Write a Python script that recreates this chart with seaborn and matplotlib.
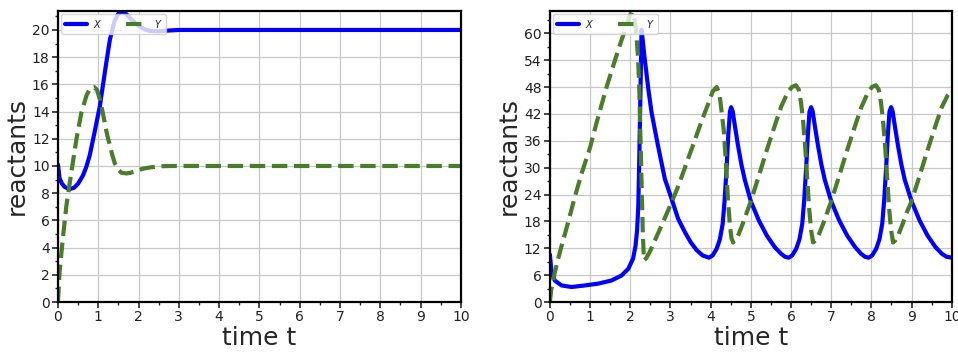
import numpy as np
import pandas as pd
import seaborn as sns
import matplotlib
matplotlib.use("Agg")
import matplotlib.pyplot as plt
from matplotlib.ticker import MultipleLocator

# left panel: damped approach to fixed point
lx_t = [0, 0.04, 0.1, 0.17, 0.29, 0.4, 0.5, 0.62, 0.7, 0.79, 0.91, 1.04, 1.12, 1.2, 1.29,
        1.41, 1.5, 1.58, 1.67, 1.78, 1.9, 2.03, 2.15, 2.28, 2.5, 2.7, 3.0, 4, 5, 6, 7, 8, 9, 10]
lx_v = [10.1, 9.1, 8.7, 8.45, 8.3, 8.4, 8.7, 9.3, 9.9, 10.8, 12.5, 14.4, 16.0, 17.6, 19.3,
        20.7, 21.2, 21.35, 21.25, 20.9, 20.55, 20.25, 20.05, 19.93, 19.9, 19.95, 20, 20, 20, 20, 20, 20, 20, 20]
ly_t = [0, 0.04, 0.12, 0.21, 0.33, 0.46, 0.58, 0.71, 0.8, 0.9, 0.97, 1.04, 1.1, 1.16, 1.22,
        1.29, 1.35, 1.41, 1.5, 1.58, 1.7, 1.8, 1.95, 2.11, 2.3, 2.53, 2.8, 3.2, 4, 5, 6, 7, 8, 9, 10]
ly_v = [0, 2.2, 4.65, 7.1, 9.5, 12.0, 13.9, 15.2, 15.7, 15.8, 15.6, 14.9, 14.1, 13.2, 12.3,
        11.5, 10.8, 10.2, 9.7, 9.5, 9.45, 9.5, 9.65, 9.8, 9.9, 9.98, 10, 10, 10, 10, 10, 10, 10, 10, 10]

# right panel: limit cycle
rx_t = [0, 0.04, 0.12, 0.29, 0.54, 0.87, 1.2, 1.53, 1.78, 1.95, 2.07, 2.13, 2.17, 2.2, 2.22,
        2.24, 2.26, 2.28, 2.31, 2.35, 2.45, 2.53, 2.69, 2.86, 3.03, 3.19, 3.36, 3.5, 3.65, 3.8, 3.96,
        4.05, 4.15, 4.23, 4.3, 4.35, 4.4, 4.44, 4.48, 4.51, 4.55, 4.6, 4.68, 4.77, 4.85, 5.0,
        5.2, 5.4, 5.6, 5.75, 5.85, 5.94,
        6.03, 6.13, 6.21, 6.28, 6.33, 6.38, 6.42, 6.46, 6.5, 6.54, 6.59, 6.67, 6.76, 6.84, 7.0,
        7.2, 7.4, 7.6, 7.74, 7.84, 7.93,
        8.02, 8.12, 8.2, 8.27, 8.32, 8.37, 8.41, 8.45, 8.49, 8.53, 8.58, 8.66, 8.75, 8.83, 9.0,
        9.2, 9.4, 9.6, 9.75, 9.87, 10.0]
rx_v = [10.6, 6.7, 4.8, 3.7, 3.35, 3.7, 4.1, 4.8, 5.9, 7.4, 9.7, 12.5, 16, 21.5, 30,
        40, 50, 60.8, 58.5, 55, 47.5, 42.3, 34.9, 27.5, 23, 18.6, 15.6, 13.4, 11.6, 10.4, 9.9,
        10.4, 11.9, 14, 17.5, 23, 30.5, 37.5, 42.5, 43.5, 42.5, 39.5, 35, 30.5, 27.3, 22.5,
        18.2, 14.8, 12.2, 10.8, 10.1, 9.9,
        10.4, 11.9, 14, 17.5, 23, 30.5, 37.5, 42.5, 43.5, 42.5, 39.5, 35, 30.5, 27.3, 22.5,
        18.2, 14.8, 12.2, 10.8, 10.1, 9.9,
        10.4, 11.9, 14, 17.5, 23, 30.5, 37.5, 42.5, 43.5, 42.5, 39.5, 35, 30.5, 27.3, 22.5,
        18.2, 14.8, 12.2, 10.8, 10.1, 9.9]
ry_t = [0, 0.03, 0.07, 0.12, 0.2, 0.29, 0.46, 0.62, 0.8, 1.0, 1.16, 1.41, 1.62, 1.82, 1.93,
        2.0, 2.05, 2.1, 2.15, 2.19, 2.22, 2.25, 2.28, 2.31, 2.34, 2.4, 2.5, 2.6, 2.8, 3.03,
        3.2, 3.4, 3.6, 3.8, 3.95, 4.05, 4.15, 4.22, 4.28, 4.33, 4.38, 4.43, 4.48, 4.52, 4.56,
        4.62, 4.7, 4.8, 4.9, 5.0, 5.2, 5.4, 5.6, 5.75, 5.9, 6.02, 6.12, 6.19, 6.25, 6.3, 6.35,
        6.4, 6.45, 6.5, 6.55,
        6.62, 6.7, 6.8, 6.9, 7.0, 7.2, 7.4, 7.6, 7.75, 7.9, 8.01, 8.11, 8.18, 8.24, 8.29, 8.34,
        8.39, 8.44, 8.49, 8.54,
        8.6, 8.68, 8.78, 8.88, 9.0, 9.2, 9.4, 9.6, 9.75, 9.9, 10.0]
ry_v = [0, 2.5, 4.5, 6.5, 9.5, 12.5, 18, 23.5, 29, 34.5, 40, 48, 54, 59.5, 62.5,
        64.2, 64.8, 63.5, 60, 55, 49, 38, 27, 16, 9.3, 9.8, 11.5, 13.5, 17.5, 22.3,
        26, 31, 36, 41, 44.5, 47, 48, 46.5, 42, 38, 31, 23, 17, 14.2, 13.3,
        13.8, 15.2, 17.5, 20, 22.5, 28.2, 34, 39.5, 43.5, 46.5, 48, 48.4, 47.5, 44.5, 40.5, 35,
        28, 21, 16, 13.3,
        13.8, 15.2, 17.5, 20, 22.5, 28.2, 34, 39.5, 43.5, 46.5, 48, 48.4, 47.5, 44.5, 40.5, 35,
        28, 21, 16, 13.3,
        13.8, 15.2, 17.5, 20, 22.5, 28.2, 34, 39.5, 43.5, 46.2, 47.5]

BLUE = "#0000ff"
GREEN = "#4a7d2a"

sns.set_style("ticks")
plt.rcParams["font.family"] = ["DejaVu Sans"]

fig = plt.figure(figsize=(9.58, 3.52), dpi=100)
ax1 = fig.add_axes([0.0605, 0.142, 0.4205, 0.827])
ax2 = fig.add_axes([0.574, 0.142, 0.4195, 0.827])


def panel(ax, xt, xv, yt, yv, ymax, ystep):
    dx = pd.DataFrame({"t": xt, "v": xv})
    dy = pd.DataFrame({"t": yt, "v": yv})
    sns.lineplot(data=dx, x="t", y="v", ax=ax, color=BLUE, lw=3, label="$X$")
    sns.lineplot(data=dy, x="t", y="v", ax=ax, color=GREEN, lw=3, linestyle="--", label="$Y$")
    ax.set_xlim(0, 10)
    ax.set_ylim(0, ymax)
    ax.xaxis.set_major_locator(MultipleLocator(1))
    ax.xaxis.set_minor_locator(MultipleLocator(0.5))
    ax.yaxis.set_major_locator(MultipleLocator(ystep))
    ax.yaxis.set_minor_locator(MultipleLocator(ystep / 2))
    ax.grid(True, which="major", color="#c8c8c8", lw=0.9)
    ax.set_axisbelow(True)
    for s in ax.spines.values():
        s.set_linewidth(1.6)
        s.set_color("black")
    ax.tick_params(which="major", direction="out", length=4, width=1.2, labelsize=10,
                   labelcolor="#222222", pad=2)
    ax.tick_params(which="minor", direction="out", length=2.5, width=1)
    ax.set_xlabel("time t", fontsize=18, labelpad=1)
    ax.set_ylabel("reactants", fontsize=18, labelpad=2)
    ax.legend(loc="upper left", ncol=2, fontsize=7, handlelength=2.3, columnspacing=2.4,
              handletextpad=0.6, borderaxespad=0.3, framealpha=0.8)


panel(ax1, lx_t, lx_v, ly_t, ly_v, 21.4, 2)
panel(ax2, rx_t, rx_v, ry_t, ry_v, 65, 6)

fig.savefig("out.png", dpi=100)
